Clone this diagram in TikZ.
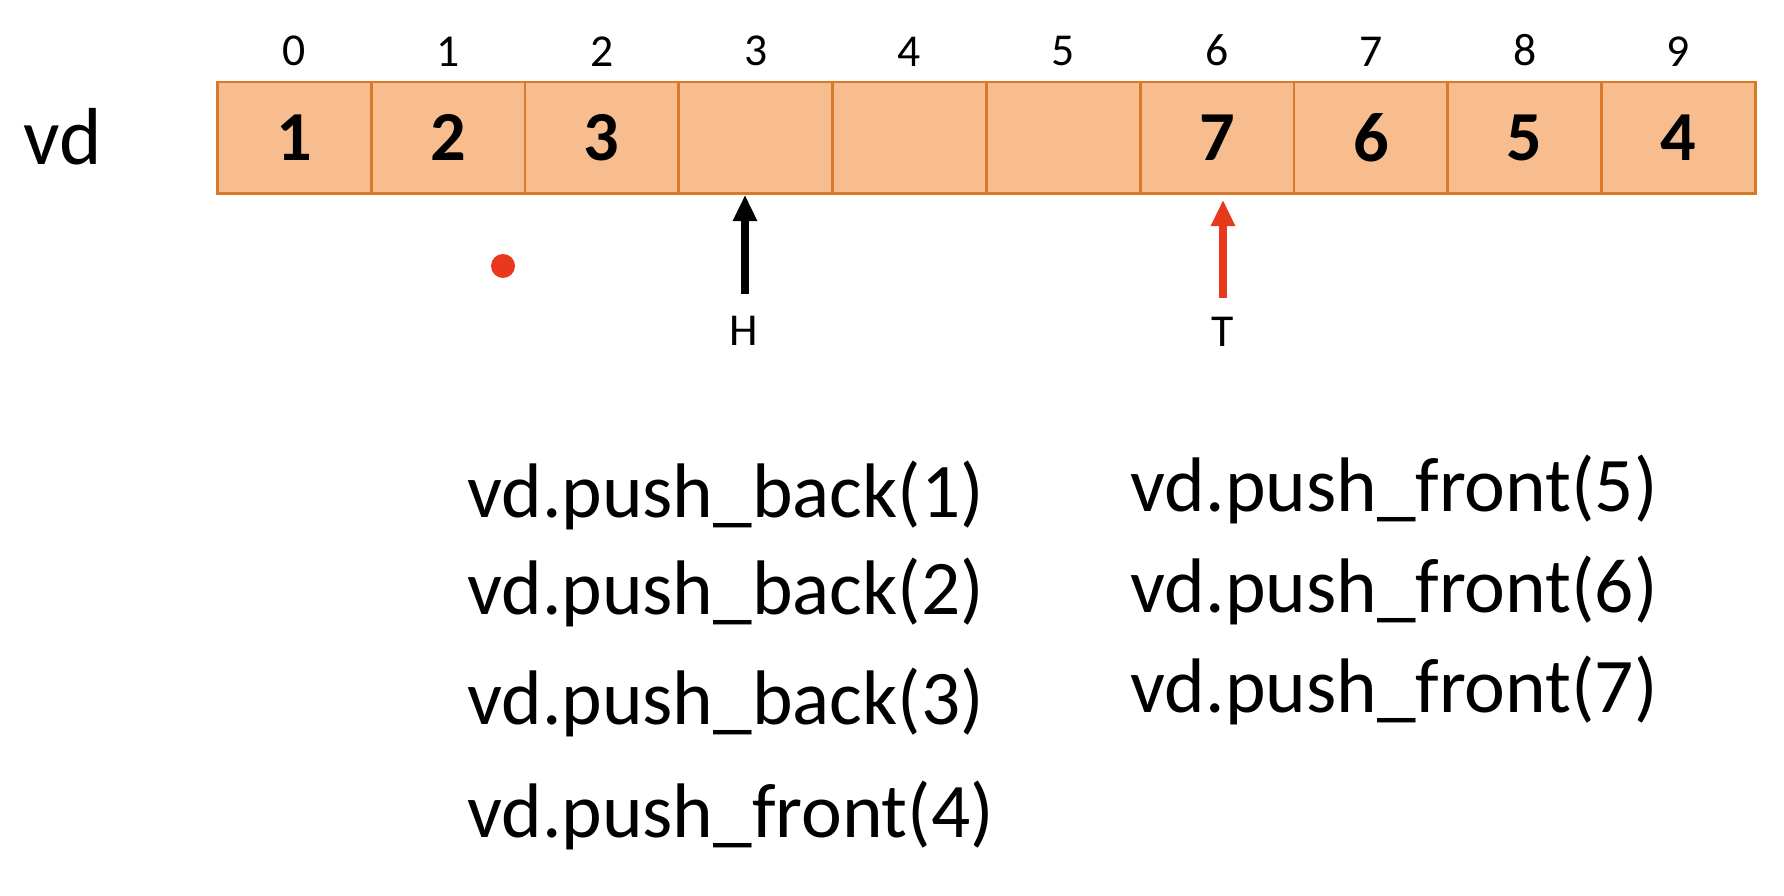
\documentclass[tikz,border=0pt]{standalone}
\usepackage{fontspec}
\setmainfont{Carlito}
\usepackage{xcolor}
\usetikzlibrary{arrows.meta, positioning}

\definecolor{cellfill}{HTML}{F8BD8E}
\definecolor{celldraw}{HTML}{D9792A}
\definecolor{tailred}{HTML}{E8391C}

\tikzset{
    cell/.style={draw=celldraw, fill=cellfill, line width=0.8pt, minimum width=1.538cm, minimum height=1.115cm, inner sep=0pt, font=\fontsize{20}{22}\selectfont\bfseries},
    idx/.style={font=\fontsize{13}{15}\selectfont},
    code/.style={anchor=west, inner sep=0pt, font=\fontsize{22}{26}\selectfont},
    ptr/.style={line width=2.2pt, -{Triangle[width=6.5pt, length=7.5pt]}}
}

\begin{document}
\begin{tikzpicture}
                        \useasboundingbox (0,0) rectangle (17.84,8.96);
                        % deque storage
                        \foreach \v [count=\i from 0] in {1,2,3,{},{},{},7,6,5,4} {
                            \node[cell] (c\i) at ({2.173+0.769+1.538*\i},7.583) {\v};
                            \node[idx, above=0.02cm of c\i] (i\i) {\i};
                        }
                        \node[font=\fontsize{23}{26}\selectfont] (vd) at (0.626,7.595) {vd};
                        \fill[tailred] (5.03,6.30) circle[radius=0.12];
                        % head and tail
                        \node[idx] (H) at (7.44,5.65) {H};
                        \node[idx] (T) at (12.23,5.64) {T};
                        \coordinate (hbase) at (7.45,6.02);
                        \coordinate (tbase) at (12.23,5.98);
                        \draw[ptr, black] (hbase) -- (hbase |- c3.south);
                        \draw[ptr, tailred] (tbase) -- ([yshift=-0.05cm]tbase |- c6.south);
                        % operations
                        \node[code] (op1) at (4.665,4.01) {vd.push\_back(1)};
                        \node[code] (op2) at (4.665,3.04) {vd.push\_back(2)};
                        \node[code] (op3) at (4.665,1.94) {vd.push\_back(3)};
                        \node[code] (op4) at (4.665,0.81) {vd.push\_front(4)};
                        \node[code] (op5) at (11.30,4.07) {vd.push\_front(5)};
                        \node[code] (op6) at (11.30,3.055) {vd.push\_front(6)};
                        \node[code] (op7) at (11.30,2.054) {vd.push\_front(7)};
                    \end{tikzpicture}
\end{document}
